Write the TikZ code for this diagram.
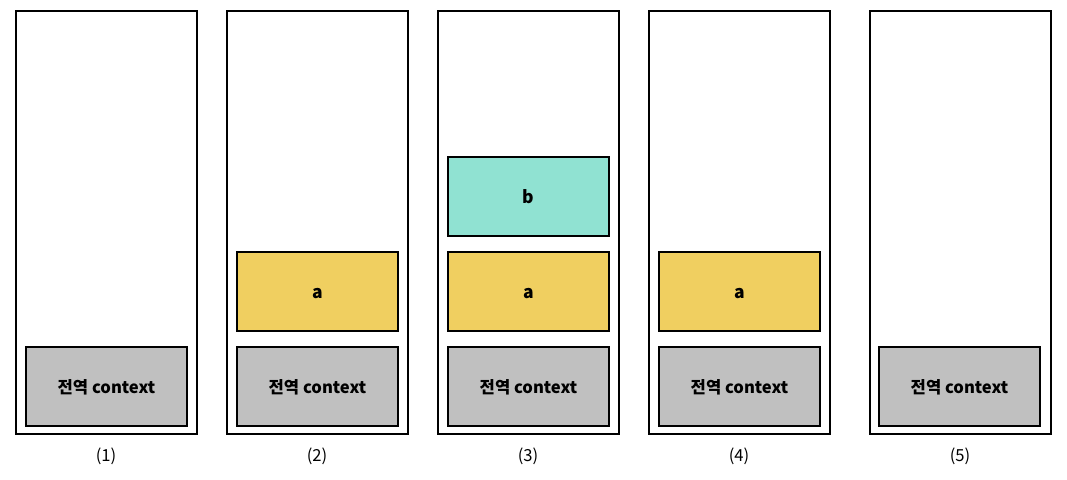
\documentclass[tikz,border=0pt]{standalone}
\usepackage{fontspec}
\setmainfont{Noto Sans CJK KR}
\definecolor{ctxgray}{HTML}{C0C0C0}
\definecolor{fnyellow}{HTML}{F0CF60}
\definecolor{fnteal}{HTML}{90E2D2}
\begin{document}
\begin{tikzpicture}[x=1pt,y=-1pt,
  stackbox/.style={draw=black,line width=2pt,fill=white,minimum width=181pt,minimum height=423pt,inner sep=0pt,anchor=north west},
  frame/.style={draw=black,line width=2pt,minimum width=161pt,minimum height=79pt,inner sep=0pt,anchor=north west},
  ctx/.style={frame,fill=ctxgray,text height=14pt,text depth=0pt,font=\fontsize{16.6}{18}\selectfont\bfseries},
  fa/.style={frame,fill=fnyellow,text height=14.5pt,text depth=0pt,font=\fontsize{17.5}{19}\selectfont\bfseries},
  fb/.style={fa,fill=fnteal},
  captext/.style={font=\fontsize{16.6}{18}\selectfont}]
\useasboundingbox (0,0) rectangle (1067,479);
% columns
\node[stackbox] (s1) at (15,10) {};
\node[stackbox] (s2) at (226,10) {};
\node[stackbox] (s3) at (437,10) {};
\node[stackbox] (s4) at (648,10) {};
\node[stackbox] (s5) at (869,10) {};
% global contexts
\node[ctx] (g1) at (25,346) {전역 context};
\node[ctx] (g2) at (236,346) {전역 context};
\node[ctx] (g3) at (447,346) {전역 context};
\node[ctx] (g4) at (658,346) {전역 context};
\node[ctx] (g5) at (878,346) {전역 context};
% a contexts
\node[fa] (a2) at (236,251) {a};
\node[fa] (a3) at (447,251) {a};
\node[fa] (a4) at (658,251) {a};
% b context
\node[fb] (b3) at (447,156) {b};
% captions
\node[captext] (c1) at (106,456) {(1)};
\node[captext] (c2) at (317,456) {(2)};
\node[captext] (c3) at (528,456) {(3)};
\node[captext] (c4) at (739,456) {(4)};
\node[captext] (c5) at (960,456) {(5)};
\end{tikzpicture}
\end{document}
